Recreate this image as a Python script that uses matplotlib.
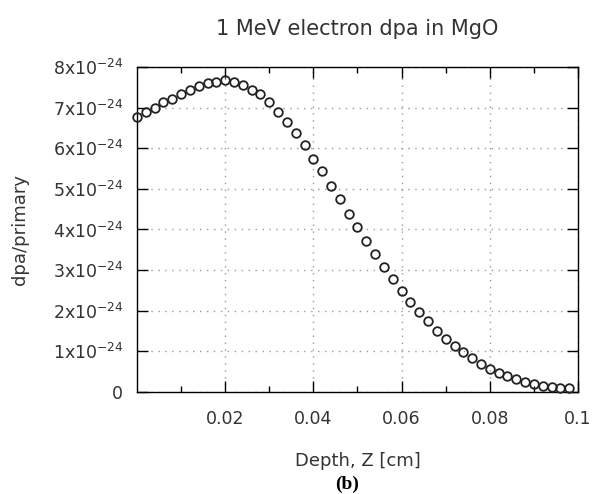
import matplotlib
matplotlib.use("Agg")
import matplotlib.pyplot as plt
import numpy as np

# depth in cm, dpa per primary in units of 1e-24
depth = [0.002 * i for i in range(50)]
dpa = [6.77, 6.90, 7.00, 7.13, 7.21, 7.33, 7.44, 7.52, 7.60, 7.64,
       7.68, 7.64, 7.56, 7.44, 7.33, 7.13, 6.89, 6.65, 6.38, 6.07,
       5.74, 5.43, 5.06, 4.75, 4.38, 4.07, 3.72, 3.40, 3.08, 2.79,
       2.48, 2.21, 1.97, 1.74, 1.51, 1.31, 1.14, 0.99, 0.83, 0.68,
       0.57, 0.47, 0.39, 0.31, 0.24, 0.19, 0.15, 0.12, 0.09, 0.09]
scale = 1e-24

xticks = [0.02, 0.04, 0.06, 0.08, 0.1]
xticklabels = ["0.02", "0.04", "0.06", "0.08", "0.1"]
yticks = [0, 1, 2, 3, 4, 5, 6, 7, 8]
yticklabels = ["0"] + [f"{v}x10$^{{-24}}$" for v in yticks[1:]]

text_color = "#333333"
plt.rcParams["font.family"] = "DejaVu Sans"

fig = plt.figure(figsize=(6.02, 4.94), dpi=100)
ax = fig.add_axes([0.2276, 0.2065, 0.9601 - 0.2276, 0.8644 - 0.2065])

ax.plot(depth, np.array(dpa) * scale, "o", mfc="none", mec="#222222",
        mew=1.3, ms=6.2, linestyle="none", clip_on=False, zorder=3)

ax.set_xlim(0, 0.1)
ax.set_ylim(0, 8 * scale)
ax.set_xticks(xticks)
ax.set_xticklabels(xticklabels)
ax.set_xticks(np.arange(0.01, 0.1, 0.02), minor=True)
ax.set_yticks([v * scale for v in yticks])
ax.set_yticklabels(yticklabels)

ax.tick_params(which="both", direction="in", top=True, right=True,
               color="black", width=1.0, labelcolor=text_color)
ax.tick_params(axis="x", which="major", length=8, pad=13, labelsize=12.5)
ax.tick_params(axis="x", which="minor", length=4)
ax.tick_params(axis="y", which="major", length=8, pad=10, labelsize=12.5)

ax.grid(True, which="major", linestyle=(0, (1, 4)), color="#999999", linewidth=1.0)
for s in ax.spines.values():
    s.set_linewidth(1.0)
    s.set_color("black")

ax.set_title("1 MeV electron dpa in MgO", fontsize=15, color=text_color, pad=23)
ax.set_xlabel("Depth, Z [cm]", fontsize=13, color=text_color, labelpad=17)
ax.set_ylabel("dpa/primary", fontsize=13, color=text_color, labelpad=17)

fig.text(0.576, 0.002, "(b)", family="Liberation Serif", weight="bold",
         fontsize=14, ha="center", va="bottom", color="black")

fig.savefig("out.png", dpi=100)
